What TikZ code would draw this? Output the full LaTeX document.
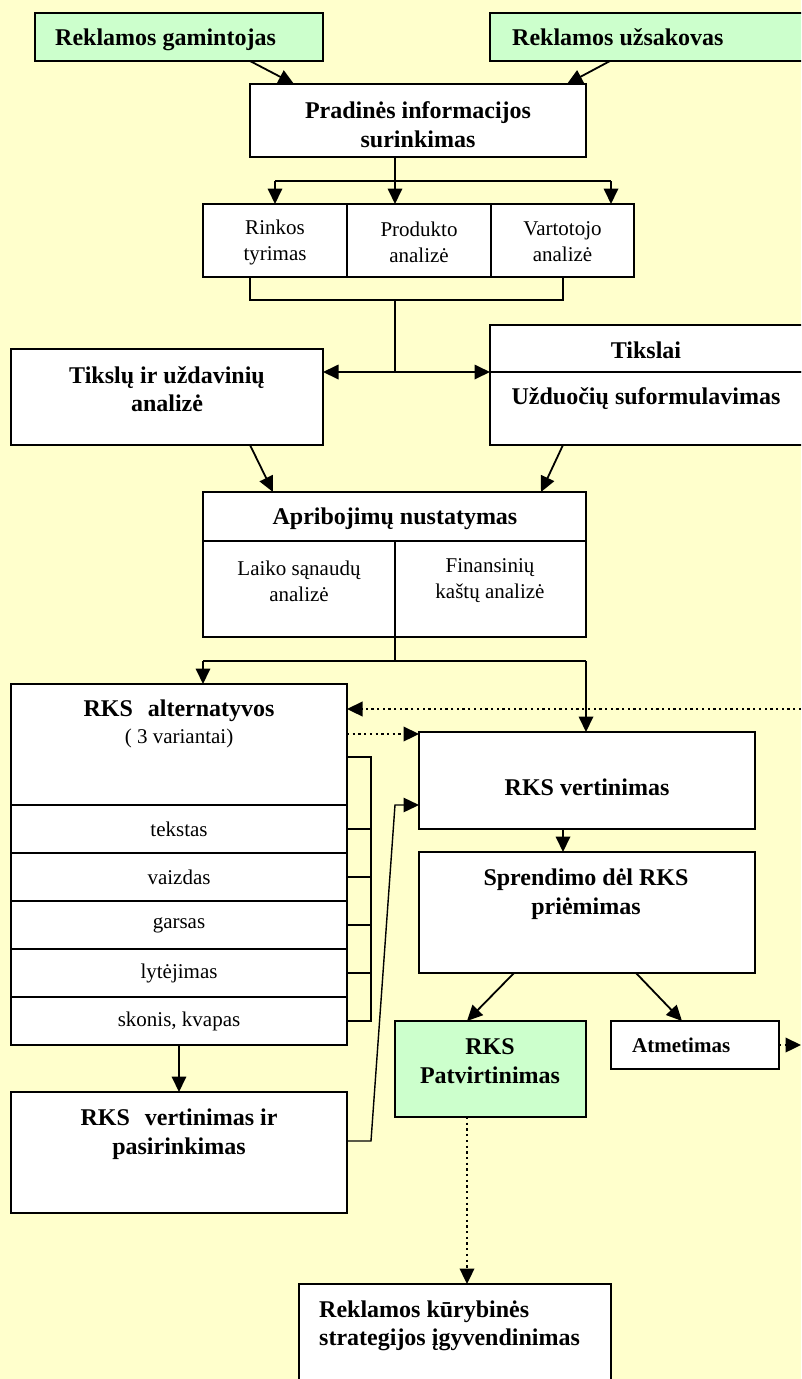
\documentclass[tikz,border=0pt]{standalone}
\usepackage{fontspec}
\setmainfont{Liberation Serif}
\usetikzlibrary{arrows.meta}
\definecolor{bgyellow}{HTML}{FFFFCC}
\definecolor{boxgreen}{HTML}{CCFFCC}
% box from top-left (x1,y1) to bottom-right (x2,y2), page coordinates in pt
\newcommand\mkbox[6]{\node[#2, minimum width=#5pt-#3pt, minimum height=#6pt-#4pt] (#1) at (#3,#4) {};}
\begin{document}
\begin{tikzpicture}[x=1pt,y=-1pt,
  box/.style={draw, line width=2pt, fill=white, inner sep=0pt, outer sep=0pt, anchor=north west},
  greenbox/.style={box, fill=boxgreen},
  hd/.style={font=\fontsize{24}{28.5}\selectfont\bfseries, align=center, inner sep=0pt},
  bd/.style={font=\fontsize{21}{26}\selectfont, align=center, inner sep=0pt},
  conn/.style={line width=1.8pt},
  arr/.style={conn, -{Triangle[length=15.5pt,width=14.5pt]}},
  dots/.style={line width=2.3pt, dash pattern=on 2.3pt off 3.4pt},
  darr/.style={dots, -{Triangle[length=15.5pt,width=14.5pt]}},
]
\useasboundingbox (0,0) rectangle (801,1379);
\fill[bgyellow] (0,0) rectangle (801,1379);
\clip (0,0) rectangle (801,1379);

% boxes
\mkbox{gam}{greenbox}{35}{13}{323}{61}
\mkbox{uzs}{greenbox}{490}{13}{812}{61}
\mkbox{prad}{box}{250}{84}{586}{157}
\mkbox{rink}{box}{203}{204}{347}{277}
\mkbox{prod}{box}{347}{204}{491}{277}
\mkbox{vart}{box}{491}{204}{634}{277}
\mkbox{tiks}{box}{11}{349}{323}{445}
\mkbox{tikslai}{box}{490}{325}{812}{372}
\mkbox{uzd}{box}{490}{372}{812}{445}
\mkbox{apr}{box}{203}{492}{586}{541}
\mkbox{laik}{box}{203}{541}{395}{637}
\mkbox{fin}{box}{395}{541}{586}{637}
\mkbox{alt}{box}{11}{684}{347}{805}
\mkbox{tek}{box}{11}{805}{347}{853}
\mkbox{vaiz}{box}{11}{853}{347}{901}
\mkbox{gars}{box}{11}{901}{347}{949}
\mkbox{lyt}{box}{11}{949}{347}{997}
\mkbox{skon}{box}{11}{997}{347}{1045}
\mkbox{vert}{box}{419}{732}{755}{829}
\mkbox{spr}{box}{419}{852}{755}{973}
\mkbox{patv}{greenbox}{395}{1021}{586}{1117}
\mkbox{atm}{box}{611}{1021}{779}{1069}
\mkbox{vpas}{box}{11}{1092}{347}{1213}
\mkbox{rekl}{box}{299}{1284}{611}{1400}

% texts
\node[hd, anchor=base west] (tgam) at (55,45) {Reklamos gamintojas};
\node[hd, anchor=base west] (tuzs) at (512,45) {Reklamos užsakovas};
\node[hd] (tprad) at (418,124.5) {Pradinės informacijos\\surinkimas};
\node[bd] (trink) at (275,242) {Rinkos\\tyrimas};
\node[bd] (tprod) at (419,242) {Produkto\\analizė};
\node[bd] (tvart) at (562.5,242) {Vartotojo\\analizė};
\node[hd] (ttiks) at (167,389) {Tikslų ir uždavinių\\analizė};
\node[hd] (ttikslai) at (646,350) {Tikslai};
\node[hd] (tuzd) at (646,399) {Užduočių suformulavimas};
\node[hd] (tapr) at (395,519) {Apribojimų nustatymas};
\node[bd] (tlaik) at (299,581) {Laiko sąnaudų\\analizė};
\node[bd] (tfin) at (490,581) {Finansinių\\kaštų analizė};
\node[hd] (talt) at (179,711) {RKS\hspace{15pt}alternatyvos};
\node[bd] (tvar) at (179,738) {( 3 variantai)};
\node[bd] (ttek) at (179,829) {tekstas};
\node[bd] (tvaiz) at (179,877) {vaizdas};
\node[bd] (tgars) at (179,925) {garsas};
\node[bd] (tlyt) at (179,973) {lytėjimas};
\node[bd] (tskon) at (179,1021) {skonis, kvapas};
\node[hd] (tvert) at (587,787) {RKS vertinimas};
\node[hd] (tspr) at (586,894) {Sprendimo dėl RKS\\priėmimas};
\node[hd] (tpatv) at (490,1061) {RKS\\Patvirtinimas};
\node[font=\fontsize{21}{25}\selectfont\bfseries, inner sep=0pt, anchor=base west] (tatm) at (632,1052) {Atmetimas};
\node[hd] (tvpas) at (179,1134) {RKS\hspace{15pt}vertinimas ir\\pasirinkimas};
\node[hd, align=left, anchor=west] (trekl) at (319,1326) {Reklamos kūrybinės\\strategijos įgyvendinimas};

% sources into the first stage
\draw[arr] ([xshift=215pt]gam.south west) -- ([xshift=44pt]prad.north west);
\draw[arr] ([xshift=120pt]uzs.south west) -- ([xshift=317pt]prad.north west);

% split into the three analyses
\coordinate (j1) at (395,181);
\coordinate (j1l) at (275,181);
\coordinate (j1r) at (611,181);
\draw[conn] (j1 |- prad.south) -- (j1);
\draw[conn] (j1l) -- (j1r);
\draw[arr] (j1l) -- (j1l |- rink.north);
\draw[arr] (j1) -- (j1 |- prod.north);
\draw[arr] (j1r) -- (j1r |- vart.north);

% joining bracket and the double arrow
\coordinate (b1) at (250,300);
\coordinate (b2) at (563,300);
\coordinate (j2) at (395,300);
\coordinate (j3) at (395,372);
\draw[conn] (b1 |- rink.south) -- (b1) -- (b2) -- (b2 |- vart.south);
\draw[conn] (j2) -- (j3);
\draw[arr] (j3) -- (j3 -| tiks.east);
\draw[arr] (j3) -- (uzd.north west);

% into the constraints box
\draw[arr] ([xshift=239pt]tiks.south west) -- ([xshift=70pt]apr.north west);
\draw[arr] ([xshift=73pt]uzd.south west) -- ([xshift=338pt]apr.north west);

% split to alternatives and evaluation
\coordinate (j4) at (395,661);
\coordinate (j4l) at (203,661);
\coordinate (j4r) at (586,661);
\draw[conn] (laik.south east) -- (j4);
\draw[conn] (j4l) -- (j4r);
\draw[arr] (j4l) -- (j4l |- alt.north);
\draw[arr] (j4r) -- (j4r |- vert.north);

% dotted feedback links
\coordinate (loopin) at (801,709);
\draw[darr] (loopin) -- (loopin -| alt.east);
\coordinate (d2s) at (347,734);
\draw[darr] (d2s) -- (d2s -| vert.west);

% bracket collecting the components
\coordinate (br) at (371,757);
\draw[conn] (alt.east |- br) -- (br) -- (br |- skon.east) -- (skon.east);
\foreach \c in {tek,vaiz,gars,lyt} \draw[conn] (\c.east) -- (\c.east -| br);

% selected variant back to evaluation
\coordinate (k1) at (371,1141);
\coordinate (k2) at (395,805);
\draw[arr, line width=1.4pt] (k1 -| vpas.east) -- (k1) -- (k2) -- (k2 -| vert.west);

\draw[arr] ([xshift=144pt]vert.south west) -- ([xshift=144pt]spr.north west);
\draw[arr] ([xshift=95pt]spr.south west) -- ([xshift=72pt]patv.north west);
\draw[arr] ([xshift=217pt]spr.south west) -- ([xshift=71pt]atm.north west);
\coordinate (loopout) at (801,1045);
\draw[darr] (atm.east) -- (loopout);
\draw[arr] (skon.south) -- (vpas.north);
\draw[darr] ([xshift=72pt]patv.south west) -- ([xshift=168pt]rekl.north west);
\end{tikzpicture}
\end{document}
